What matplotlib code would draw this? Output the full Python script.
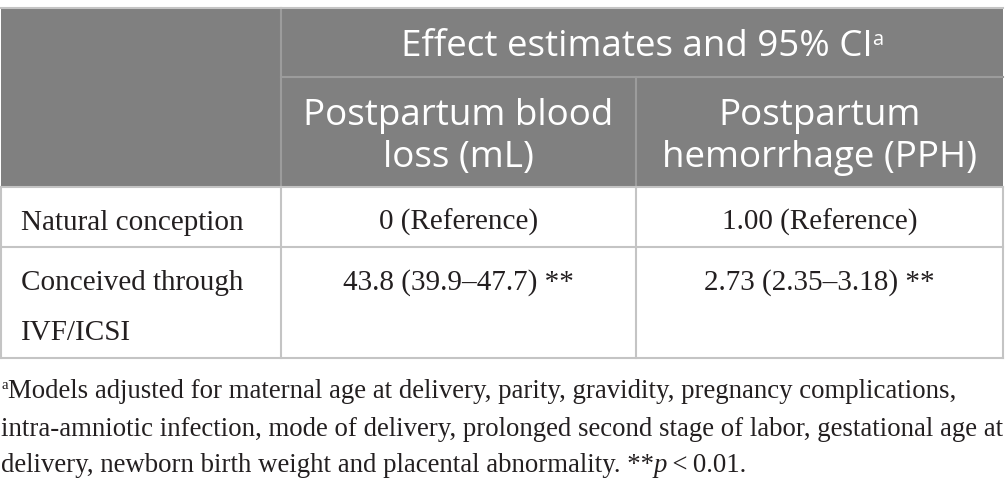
import matplotlib
matplotlib.use('Agg')
import matplotlib.pyplot as plt

# table content
group_header = "Effect estimates and 95% CI"
col_headers = [["Postpartum blood", "loss (mL)"], ["Postpartum", "hemorrhage (PPH)"]]
row_labels = [["Natural conception"], ["Conceived through", "IVF/ICSI"]]
blood_loss = ["0 (Reference)", "43.8 (39.9\u201347.7) **"]
pph = ["1.00 (Reference)", "2.73 (2.35\u20133.18) **"]
footnote_lines = [
    "Models adjusted for maternal age at delivery, parity, gravidity, pregnancy complications,",
    "intra-amniotic infection, mode of delivery, prolonged second stage of labor, gestational age at",
    "delivery, newborn birth weight and placental abnormality. **",
]

W, H = 1005, 493
fig = plt.figure(figsize=(W / 100, H / 100), dpi=100)
ax = fig.add_axes([0, 0, 1, 1])
ax.set_xlim(0, W)
ax.set_ylim(H, 0)
ax.axis('off')

SANS = 'Open Sans'
SERIF = 'Liberation Serif'
HEAD_BG = '#808080'
HEAD_LINE = '#9c9c9c'
GRID = '#c4c4c4'
INK = '#231f20'
fs_head = 26.5
fs_body = 21

# column/row edges
x0, x1, x2, x3 = 1, 281, 636, 1003
y0, ym, yh, yr, yb = 8, 77, 187, 247, 358

ax.add_patch(plt.Rectangle((x0, y0), x3 - x0, yh - y0, color=HEAD_BG, lw=0))
ax.plot([x1, x3], [ym, ym], color=HEAD_LINE, lw=1.5)
ax.plot([x1, x1], [y0, yh], color=HEAD_LINE, lw=1.5)
ax.plot([x2, x2], [ym, yh], color=HEAD_LINE, lw=1.5)
ax.plot([x0, x3], [y0, y0], color=GRID, lw=1.5)
for yy in [yh, yr, yb]:
    ax.plot([x0, x3], [yy, yy], color=GRID, lw=1.5)
for xx in [x0, x1, x2, x3]:
    ax.plot([xx, xx], [yh, yb], color=GRID, lw=1.5)

fig.canvas.draw()
renderer = fig.canvas.get_renderer()


def draw_runs(x, y, runs, ha='left'):
    # runs: list of (text, kwargs, dy)
    arts = []
    for txt, kw, dy in runs:
        t = ax.text(0, y + dy, txt, va='baseline', ha='left', **kw)
        arts.append(t)
    widths = [a.get_window_extent(renderer).width for a in arts]
    total = sum(widths)
    if ha == 'center':
        x = x - total / 2
    for a, w in zip(arts, widths):
        a.set_x(x)
        x += w


# header
draw_runs((x1 + x3) / 2, 56, [
    (group_header, dict(family=SANS, fontsize=fs_head, color='white'), 0),
    ("a", dict(family=SANS, fontsize=fs_head * 0.55, color='white'), -11),
], ha='center')
for (cx, lines) in zip([(x1 + x2) / 2, (x2 + x3) / 2], col_headers):
    for k, line in enumerate(lines):
        ax.text(cx, 125 + 42 * k, line, family=SANS, fontsize=fs_head,
                color='white', ha='center', va='baseline')

# body rows
row_base = [230, 290]
for i, lab in enumerate(row_labels):
    for k, line in enumerate(lab):
        ax.text(21, row_base[i] + 50 * k, line, family=SERIF, fontsize=fs_body,
                color=INK, ha='left', va='baseline')
    ax.text((x1 + x2) / 2, row_base[i], blood_loss[i], family=SERIF,
            fontsize=fs_body, color=INK, ha='center', va='baseline')
    ax.text((x2 + x3) / 2, row_base[i], pph[i], family=SERIF,
            fontsize=fs_body, color=INK, ha='center', va='baseline')

# footnote
fs_note = 19.3
note_kw = dict(family=SERIF, fontsize=fs_note, color=INK)
note_base = [398, 436, 472]
draw_runs(1, note_base[0], [
    ("a", dict(family=SERIF, fontsize=fs_note * 0.55, color=INK), -9),
    (footnote_lines[0], note_kw, 0),
])
ax.text(1, note_base[1], footnote_lines[1], va='baseline', **note_kw)
draw_runs(1, note_base[2], [
    (footnote_lines[2], note_kw, 0),
    ("p", dict(note_kw, style='italic'), 0),
    ("\u2009<\u20090.01.", note_kw, 0),
])

fig.savefig('out.png', dpi=100)
